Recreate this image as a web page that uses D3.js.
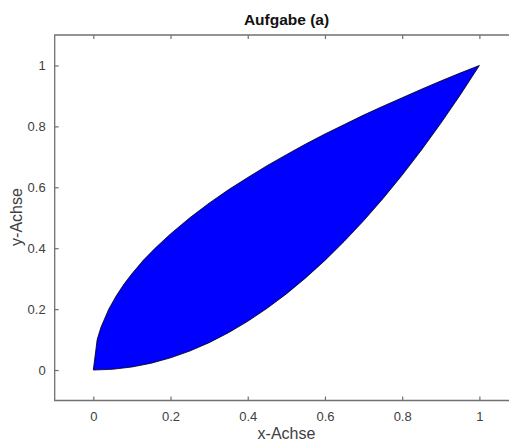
<html>
<head>
<script src="https://cdn.jsdelivr.net/npm/d3@7"></script>
<style>
  body { margin: 0; background: #fff; overflow: hidden; }
  text { font-family: "Liberation Sans", Arial, sans-serif; }
</style>
</head>
<body>
<div id="chart"></div>
<script>
// upper boundary
var upperX = [0, 0.01, 0.02, 0.04, 0.06, 0.08, 0.1, 0.13, 0.16, 0.2, 0.25, 0.3, 0.35, 0.4, 0.45, 0.5, 0.55, 0.6, 0.65, 0.7, 0.75, 0.8, 0.85, 0.9, 0.95, 1.0];
var upperY = [0, 0.1, 0.141, 0.2, 0.245, 0.283, 0.316, 0.361, 0.4, 0.447, 0.5, 0.548, 0.592, 0.632, 0.671, 0.707, 0.742, 0.775, 0.806, 0.837, 0.866, 0.894, 0.922, 0.949, 0.975, 1.0];
// lower boundary
var lowerX = [0, 0.05, 0.1, 0.15, 0.2, 0.25, 0.3, 0.35, 0.4, 0.45, 0.5, 0.55, 0.6, 0.65, 0.7, 0.75, 0.8, 0.85, 0.9, 0.95, 1.0];
var lowerY = [0, 0.0025, 0.01, 0.0225, 0.04, 0.0625, 0.09, 0.1225, 0.16, 0.2025, 0.25, 0.3025, 0.36, 0.4225, 0.49, 0.5625, 0.64, 0.7225, 0.81, 0.9025, 1.0];

var xTicks = [0, 0.2, 0.4, 0.6, 0.8, 1];
var yTicks = [0, 0.2, 0.4, 0.6, 0.8, 1];

var width = 509, height = 441;
var svg = d3.select("#chart").append("svg")
  .attr("width", width).attr("height", height)
  .style("display", "block");

var x = d3.scaleLinear().domain([-0.1, 1.1]).range([54.7, 518]);
var y = d3.scaleLinear().domain([-0.1, 1.1]).range([400.5, 35]);

// region: up along the upper curve, back along the lower curve
var pts = upperX.map(function(d, i) { return [d, upperY[i]]; });
for (var i = lowerX.length - 1; i >= 0; i--) pts.push([lowerX[i], lowerY[i]]);

var line = d3.line()
  .x(function(d) { return x(d[0]); })
  .y(function(d) { return y(d[1]); });

svg.append("path")
  .attr("d", line(pts) + "Z")
  .attr("fill", "#0000ff")
  .attr("stroke", "#000")
  .attr("stroke-width", 0.8)
  .attr("stroke-linejoin", "round");

var axisCol = "#707070", textCol = "#404040";

// box: the right side lies outside the cropped figure
svg.append("path")
  .attr("d", "M" + width + "," + y(1.1) + "H" + x(-0.1) + "V" + y(-0.1) + "H" + width)
  .attr("fill", "none").attr("stroke", axisCol).attr("stroke-width", 1.3);

// x axis bottom and top, y axis left (ticks inward)
var xb = svg.append("g").attr("transform", "translate(0," + y(-0.1) + ")")
  .call(d3.axisBottom(x).tickValues(xTicks).tickSizeInner(-4).tickSizeOuter(0).tickPadding(11).tickFormat(d3.format("")));
var xt = svg.append("g").attr("transform", "translate(0," + y(1.1) + ")")
  .call(d3.axisTop(x).tickValues(xTicks).tickSizeInner(-4).tickSizeOuter(0).tickFormat(""));
var yl = svg.append("g").attr("transform", "translate(" + x(-0.1) + ",0)")
  .call(d3.axisLeft(y).tickValues(yTicks).tickSizeInner(-4).tickSizeOuter(0).tickPadding(9).tickFormat(d3.format("")));

[xb, xt, yl].forEach(function(g) {
  g.select(".domain").remove();
  g.selectAll(".tick line").attr("stroke", axisCol).attr("stroke-width", 1.2);
  g.selectAll(".tick text").attr("fill", textCol).attr("font-size", 13)
    .attr("font-family", "Liberation Sans, Arial, sans-serif");
});

svg.append("text")
  .attr("x", 286.5).attr("y", 25)
  .attr("text-anchor", "middle")
  .attr("font-size", 15.5).attr("font-weight", "bold").attr("fill", "#111")
  .text("Aufgabe (a)");

svg.append("text")
  .attr("x", 286.5).attr("y", 439)
  .attr("text-anchor", "middle")
  .attr("font-size", 16).attr("fill", textCol)
  .text("x-Achse");

svg.append("text")
  .attr("transform", "translate(22,217) rotate(-90)")
  .attr("text-anchor", "middle")
  .attr("font-size", 16).attr("fill", textCol)
  .text("y-Achse");
</script>
</body>
</html>
